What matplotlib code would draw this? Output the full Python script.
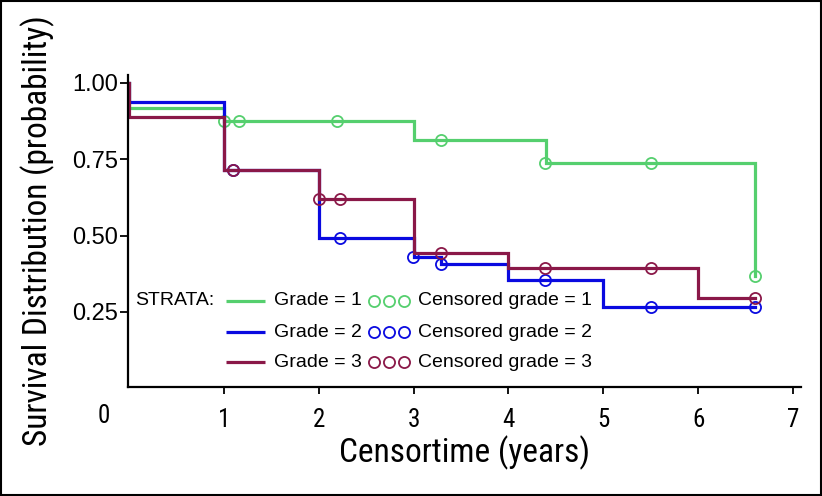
import matplotlib
matplotlib.use("Agg")
import matplotlib.pyplot as plt
from matplotlib.patches import Rectangle

# Kaplan-Meier steps
grade1_time = [0, 0, 1, 3, 4.4, 6.6]
grade1_surv = [1.0, 0.917, 0.875, 0.813, 0.737, 0.369]
grade1_cens_time = [1.0, 1.16, 2.19, 3.29, 4.39, 5.5, 6.6]
grade1_cens_surv = [0.875, 0.875, 0.875, 0.813, 0.737, 0.737, 0.369]

grade2_time = [0, 0, 1, 2, 3, 3.29, 4, 5, 6.6]
grade2_surv = [1.0, 0.938, 0.715, 0.491, 0.429, 0.407, 0.355, 0.266, 0.266]
grade2_cens_time = [1.09, 2.22, 2.99, 3.29, 4.39, 5.5, 6.6]
grade2_cens_surv = [0.715, 0.491, 0.429, 0.407, 0.355, 0.266, 0.266]

grade3_time = [0, 0, 1, 2, 3, 4, 6, 6.6]
grade3_surv = [1.0, 0.889, 0.715, 0.619, 0.444, 0.395, 0.297, 0.297]
grade3_cens_time = [1.09, 2.0, 2.22, 3.29, 4.39, 5.5, 6.6]
grade3_cens_surv = [0.715, 0.619, 0.619, 0.444, 0.395, 0.395, 0.297]

strata = ["Grade = 1", "Grade = 2", "Grade = 3"]
censored = ["Censored grade = 1", "Censored grade = 2", "Censored grade = 3"]
colors = ["#55cf6e", "#0a0ae0", "#8a1848"]

x_ticks = [1, 2, 3, 4, 5, 6, 7]
y_ticks = [0.25, 0.50, 0.75, 1.00]
y_tick_labels = ["0.25", "0.50", "0.75", "1.00"]

narrow = ["Roboto Condensed", "Archivo Narrow", "DejaVu Sans"]
regular = ["Liberation Sans", "DejaVu Sans"]

fig = plt.figure(figsize=(8.22, 4.96), dpi=100)
ax = fig.add_axes([0.1563, 0.2198, 0.8181, 0.629])

curves = [
    (grade1_time, grade1_surv, grade1_cens_time, grade1_cens_surv),
    (grade2_time, grade2_surv, grade2_cens_time, grade2_cens_surv),
    (grade3_time, grade3_surv, grade3_cens_time, grade3_cens_surv),
]
for (t, s, ct, cs), c in zip(curves, colors):
    ax.plot(t, s, drawstyle="steps-post", color=c, lw=2.3, solid_joinstyle="miter")
    ax.plot(ct, cs, ls="none", marker="o", ms=8, mfc="none", mec=c, mew=1.3)

ax.set_xlim(-0.007, 7.084)
ax.set_ylim(0.004, 1.026)

ax.spines["top"].set_visible(False)
ax.spines["right"].set_visible(False)
for sp in ["left", "bottom"]:
    ax.spines[sp].set_linewidth(1.6)

ax.set_xticks(x_ticks)
ax.set_xticklabels([str(v) for v in x_ticks], fontfamily=narrow, fontsize=18)
ax.set_yticks(y_ticks)
ax.set_yticklabels(y_tick_labels, fontfamily=regular, fontsize=17)
ax.tick_params(axis="x", length=5, width=1.3, pad=10)
ax.tick_params(axis="y", length=6, width=1.3, pad=1.5)

# the lone "0" sits left of the axis origin, level with the other tick labels
ax.text(-0.27, -0.093, "0", transform=ax.get_xaxis_transform(), ha="center", va="center",
        fontfamily=narrow, fontsize=18)

ax.set_xlabel("Censortime (years)", fontfamily=narrow, fontsize=24, va="center")
ax.xaxis.set_label_coords(0.5, -0.212)
ax.set_ylabel("Survival Distribution (probability)", fontfamily=narrow, fontsize=24, va="center")
ax.yaxis.set_label_coords(-0.1346, 0.5)

# hand-built legend inside the axes
rows = [0.276, 0.176, 0.080]
ax.text(0.0097, rows[0], "STRATA:", transform=ax.transAxes, ha="left", va="center",
        fontfamily=regular, fontsize=14)
for i in range(3):
    y = rows[i]
    ax.plot([0.145, 0.203], [y, y], transform=ax.transAxes, color=colors[i], lw=2.3,
            solid_capstyle="butt")
    ax.text(0.2164, y, strata[i], transform=ax.transAxes, ha="left", va="center",
            fontfamily=regular, fontsize=14)
    ax.plot([0.365, 0.387, 0.410], [y, y, y], transform=ax.transAxes, ls="none",
            marker="o", ms=8, mfc="none", mec=colors[i], mew=1.3)
    ax.text(0.430, y, censored[i], transform=ax.transAxes, ha="left", va="center",
            fontfamily=regular, fontsize=14)

fig.patches.append(Rectangle((0.001, 0.002), 0.998, 0.996, transform=fig.transFigure,
                             fill=False, edgecolor="black", lw=1.5))

fig.savefig("out.png", dpi=100)
